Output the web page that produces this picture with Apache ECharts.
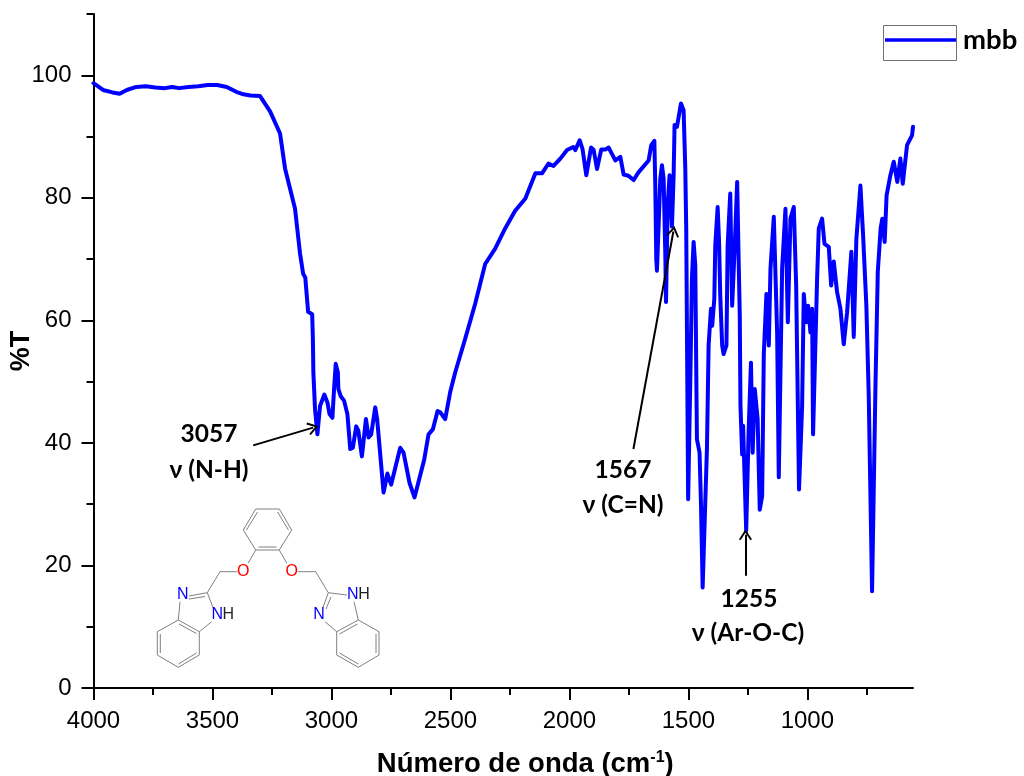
<!DOCTYPE html>
<html><head><meta charset="utf-8">
<style>html,body{margin:0;padding:0;background:#fff}#c{width:1024px;height:776px}</style>
<script src="https://cdn.jsdelivr.net/npm/echarts@6/dist/echarts.min.js"></script>
</head><body><div id="c"></div>
<script>
const seriesName = 'mbb';
const wavenumbers = [4000,3960,3920,3890,3860,3820,3780,3740,3700,3670,3640,3600,3560,3520,3480,3440,3400,3370,3340,3300,3258,3216,3195,3153,3132,3119,3110,3098,3081,3078,3076,3069,3059,3048,3030,3017,3008,2996,2989,2982,2973,2971,2961,2947,2933,2921,2910,2896,2887,2872,2855,2844,2833,2816,2808,2781,2765,2749,2711,2697,2672,2651,2610,2592,2574,2554,2543,2522,2501,2480,2438,2396,2354,2312,2270,2228,2185,2143,2115,2088,2067,2038,2010,1984,1975,1957,1945,1929,1909,1898,1884,1866,1849,1835,1807,1786,1772,1752,1730,1709,1702,1667,1656,1643,1639,1635,1632,1618,1611,1604,1597,1594,1587,1579,1569,1562,1558,1548,1531,1520,1513,1509,1501,1492,1485,1478,1471,1464,1453,1447,1440,1429,1422,1415,1405,1400,1391,1387,1377,1371,1366,1358,1352,1340,1335,1324,1316,1305,1295,1288,1284,1281,1274,1270,1257,1247,1237,1230,1221,1209,1200,1190,1183,1172,1162,1155,1141,1134,1127,1120,1106,1092,1082,1071,1057,1047,1035,1022,1015,1005,997,987,980,976,959,952,938,928,910,900,889,875,861,847,833,815,805,794,777,766,752,742,728,714,704,692,685,675,667,651,637,622,609,599,581,560,556];
const transmittance = [98.7,97.6,97.2,97.0,97.6,98.1,98.2,98.0,97.9,98.1,97.9,98.1,98.2,98.4,98.4,98.1,97.3,96.9,96.7,96.6,94.1,90.5,84.8,78.2,70.9,67.6,67.0,61.4,61.0,57.0,51.5,45.5,41.4,46.0,47.9,46.6,44.7,44.1,48.8,52.9,51.5,48.8,47.6,46.9,44.7,39.0,39.2,42.7,42.0,37.8,43.9,40.9,41.4,45.8,43.9,31.9,35.0,33.2,39.2,38.4,33.5,31.1,37.3,41.4,42.2,45.2,45.0,43.9,48.3,51.5,57.0,62.7,69.2,71.7,75.0,77.9,79.9,84.0,84.0,85.6,85.2,86.4,87.8,88.3,87.8,89.4,88.0,83.7,88.2,87.8,84.7,87.9,87.9,88.2,86.1,86.7,83.8,83.6,82.9,84.2,84.4,86.1,88.6,89.3,82.0,70.0,68.1,83.1,85.3,83.1,71.0,63.0,78.8,83.7,75.3,83.7,91.9,91.6,95.4,94.3,84.8,75.0,30.8,50.0,66.8,72.8,69.0,40.6,38.4,30.0,16.4,30.3,39.0,55.9,61.9,59.1,63.5,72.2,78.5,72.8,64.0,55.9,54.5,55.9,72.2,80.7,62.4,72.2,82.6,68.4,60.8,46.0,38.1,42.8,25.6,41.7,53.1,38.4,48.8,43.9,29.1,31.3,54.5,64.3,55.9,68.4,76.9,76.9,58.0,34.4,68.4,78.2,59.7,76.6,78.5,65.7,32.4,46.0,64.3,59.7,62.4,58.0,61.9,41.4,66.8,75.0,76.6,72.5,72.0,65.7,69.6,64.6,61.9,56.1,61.3,71.2,57.3,73.3,82.0,74.1,62.4,47.7,15.8,48.8,67.9,75.0,76.6,72.8,80.4,83.7,85.9,82.6,86.4,82.3,88.6,90.2,91.6];
const xMajorTicks = [1000,1500,2000,2500,3000,3500,4000];
const xMinorTicks = [750,1250,1750,2250,2750,3250,3750];
const yMajorTicks = [0,20,40,60,80,100];
const yMinorTicks = [10,30,50,70,90,110];
const annotationArrows = [
  {from:[3329,39.6], to:[3077,42.5]},
  {from:[1731,39.0], to:[1563,74.5]},
  {from:[1260,18.3], to:[1260,25.0]}
];
const annotationTexts = [
  ['3057',209,434],['ν (N-H)',209,470],
  ['1567',623,470],['ν (C=N)',623,505],
  ['1255',749,599],['ν (Ar-O-C)',748,633]
];

const black = '#000';
const grey = '#808080';
const bonds = [
 [[255.7,509],[279.3,509],[291.7,530],[279.3,550],[255.7,550],[243.3,530],[255.7,509]],
 [[246.5,530],[257.5,512]],[[277.5,512],[288.5,530]],[[258.5,547],[276.5,547]],
 [[255.7,550],[248.3,563]],[[237.3,571.7],[220,571.7],[207.3,592.7]],
 [[207.3,592.7],[189,596]],[[205,596.5],[189,599]],
 [[207.3,592.7],[213.3,608.3]],[[211.7,621.7],[199.3,631.7]],[[180,601.7],[178.3,620]],
 [[178.3,620],[199.3,631.7],[199.3,655],[178.3,667.3],[157.3,655],[157.3,631.7],[178.3,620]],
 [[179,624],[196.5,633.5]],[[196.5,653],[178.3,664]],[[160.3,634],[160.3,653]],
 [[279.3,550],[286.7,563]],[[297.7,571.7],[315.7,571.7],[328.3,592.7]],
 [[328.3,592.7],[346.7,595]],[[328.3,592.7],[322.7,608.3]],[[331,597],[326,609]],
 [[354,601.7],[358.3,620]],[[325,621.7],[336.7,631.7]],
 [[358.3,620],[379,631.7],[379,655],[358.3,667.3],[336.7,655],[336.7,631.7],[358.3,620]],
 [[357.5,624],[339.5,634]],[[376,634],[376,653]],[[339.5,653],[358.3,664]]
];
const atoms = [
 ['O',243.3,571.7,'#ff0000'],['O',291.7,571.7,'#ff0000'],
 ['N',182.7,595,'#0000ff'],['N',217.3,615,'#0000ff'],['H',228.3,615,'#222'],
 ['N',319,615,'#0000ff'],['N',352.7,595,'#0000ff'],['H',364,595,'#222']
];

const graphic = [];
bonds.forEach(p => graphic.push({type:'polyline',silent:true,shape:{points:p},style:{stroke:grey,lineWidth:1,fill:null}}));
atoms.forEach(a => graphic.push({type:'text',silent:true,x:a[1],y:a[2],style:{text:a[0],fill:a[3],font:'16px "Liberation Sans"',align:'center',verticalAlign:'middle'}}));
annotationTexts.forEach(t => graphic.push({type:'text',silent:true,x:t[1],y:t[2],style:{text:t[0],fill:black,font:'bold 24.5px Lato',align:'center',verticalAlign:'middle'}}));
graphic.push({type:'rect',silent:true,shape:{x:883.5,y:25.5,width:73,height:35},style:{fill:null,stroke:'#707070',lineWidth:1}});

const chart = echarts.init(document.getElementById('c'),null,{renderer:'canvas'});
const plain = v => String(v);
const axisFont = {fontFamily:'"Liberation Sans"',fontSize:24,color:black,formatter:plain};
const arrowHead = 'path://M-10,14 L0,0 L10,14 L7.6,15.6 L0,5 L-7.6,15.6 Z';
chart.setOption({
  animation:false,
  backgroundColor:'#fff',
  grid:{left:93.5,right:111,top:14,bottom:88,containLabel:false,outerBoundsMode:'none'},
  legend:{show:true,left:885,top:26,padding:0,itemWidth:71,itemHeight:14,itemGap:0,
    data:[{name:seriesName,icon:'path://M0,6 L71,6 L71,9.4 L0,9.4 Z'}],
    textStyle:{fontFamily:'Lato',fontWeight:'bold',fontSize:27.5,color:black,padding:[0,0,10,2]}},
  xAxis:[{
    type:'value',inverse:true,min:556,max:4000,position:'bottom',
    name:'Número de onda (cm{sup|-1})',nameLocation:'middle',nameGap:62,nameMoveOverlap:false,
    nameTextStyle:{fontFamily:'"Liberation Sans"',fontWeight:'bold',fontSize:27.5,color:black,padding:[0,0,0,44],
      rich:{sup:{fontFamily:'"Liberation Sans"',fontWeight:'bold',fontSize:16,color:black,verticalAlign:'top',padding:[0,0,8,0]}}},
    axisLine:{show:true,lineStyle:{color:black,width:2}},
    axisTick:{show:true,length:12,lineStyle:{color:black,width:2},customValues:xMajorTicks},
    axisLabel:{show:true,margin:21,customValues:xMajorTicks,...axisFont},
    splitLine:{show:false}
  },{
    type:'value',inverse:true,min:556,max:4000,position:'bottom',
    axisLine:{show:false},
    axisTick:{show:true,length:7,lineStyle:{color:black,width:2},customValues:xMinorTicks},
    axisLabel:{show:false},splitLine:{show:false}
  }],
  yAxis:[{
    type:'value',min:0,max:110,position:'left',
    name:'%T',nameLocation:'middle',nameGap:58,nameMoveOverlap:false,
    nameTextStyle:{fontFamily:'"Liberation Sans"',fontWeight:'bold',fontSize:27,color:black},
    axisLine:{show:true,lineStyle:{color:black,width:2}},
    axisTick:{show:true,length:12,lineStyle:{color:black,width:2},customValues:yMajorTicks},
    axisLabel:{show:true,margin:22,customValues:yMajorTicks,...axisFont},
    splitLine:{show:false}
  },{
    type:'value',min:0,max:110,position:'left',
    axisLine:{show:false},
    axisTick:{show:true,length:7,lineStyle:{color:black,width:2},customValues:yMinorTicks},
    axisLabel:{show:false},splitLine:{show:false}
  }],
  series:[{
    name:seriesName,type:'line',xAxisIndex:0,yAxisIndex:0,
    data:wavenumbers.map((w,i)=>[w,transmittance[i]]),
    showSymbol:false,symbol:'none',smooth:false,sampling:false,clip:true,
    lineStyle:{color:'#0000ff',width:4,join:'round',cap:'round'},
    itemStyle:{color:'#0000ff'},
    markLine:{silent:true,animation:false,precision:4,label:{show:false},
      symbol:['none',arrowHead],symbolSize:[13,11],
      lineStyle:{color:'#000',width:2,type:'solid'},
      data:annotationArrows.map(a=>[{coord:a.from},{coord:a.to}])}
  }],
  graphic:{elements:graphic}
});
</script></body></html>
